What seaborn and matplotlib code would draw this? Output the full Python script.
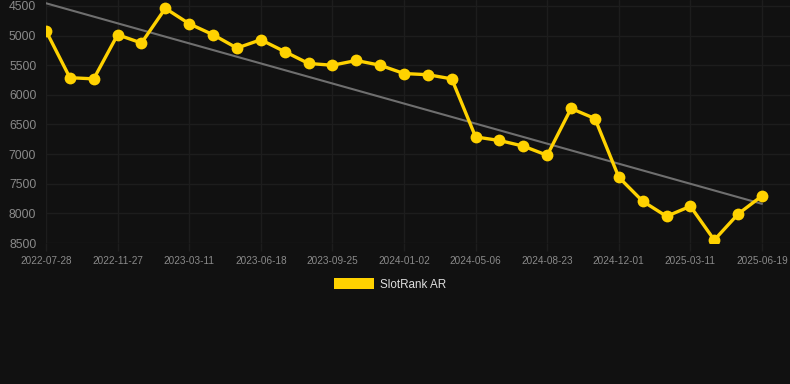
import numpy as np
import pandas as pd
import matplotlib
matplotlib.use("Agg")
import matplotlib.pyplot as plt
import seaborn as sns
from matplotlib.patches import Patch

# ---- data ----
rank_values = [4920, 5710, 5730, 4985, 5125, 4540, 4800, 4985, 5210, 5070,
               5270, 5470, 5500, 5420, 5500, 5640, 5660, 5730, 6710, 6770,
               6865, 7020, 6230, 6400, 7390, 7795, 8050, 7880, 8450, 8010, 7705]
tick_labels = ["2022-07-28", "2022-11-27", "2023-03-11", "2023-06-18",
               "2023-09-25", "2024-01-02", "2024-05-06", "2024-08-23",
               "2024-12-01", "2025-03-11", "2025-06-19"]
y_ticks = [4500, 5000, 5500, 6000, 6500, 7000, 7500, 8000, 8500]
series_name = "SlotRank AR"

BG = "#111111"
YELLOW = "#FFD200"
GRID = "#1d1d1d"
TICK_C = "#8a8a8a"

sns.set_theme(style="dark")
plt.rcParams["font.family"] = ["Liberation Sans", "DejaVu Sans"]

df = pd.DataFrame({"idx": np.arange(len(rank_values)), "rank": rank_values})

W, H = 790, 384
fig = plt.figure(figsize=(W / 100, H / 100), dpi=100, facecolor=BG)
ax = fig.add_axes([46 / W, 141 / H, 744 / W, 243 / H])
ax.set_facecolor(BG)

# trend line (linear fit)
coef = np.polyfit(df["idx"], df["rank"], 1)
trend = np.polyval(coef, df["idx"])
ax.plot(df["idx"], trend, color="#6f6f6f", lw=1.5, zorder=2)

sns.lineplot(data=df, x="idx", y="rank", ax=ax, color=YELLOW, lw=2.4,
             marker="o", markersize=8.5, markeredgewidth=0,
             markerfacecolor=YELLOW, zorder=3)

ax.set_xlim(0, 30 + 28 / 23.87)
ax.set_ylim(8500, 4399)
ax.set_xticks(np.arange(0, len(rank_values), 3))
ax.set_xticklabels(tick_labels)
ax.set_yticks(y_ticks)
ax.set_yticklabels([str(v) for v in y_ticks])
ax.set_xlabel("")
ax.set_ylabel("")

ax.grid(True, color=GRID, lw=1)
for s in ax.spines.values():
    s.set_visible(False)
ax.tick_params(axis="x", colors=GRID, labelcolor=TICK_C, labelsize=7.2,
               length=6, width=1, pad=3, bottom=True)
ax.tick_params(axis="y", colors=GRID, labelcolor=TICK_C, labelsize=8.7,
               length=0, pad=7, left=False)

handle = Patch(facecolor=YELLOW, edgecolor="none")
leg = fig.legend([handle], [series_name], loc="center",
                 bbox_to_anchor=(390 / W, 1 - 284.5 / H), frameon=False,
                 fontsize=8.4, handlelength=3.42, handleheight=1.03,
                 handletextpad=0.5, labelcolor="#dddddd")

fig.savefig("out.png", dpi=100, facecolor=BG)
